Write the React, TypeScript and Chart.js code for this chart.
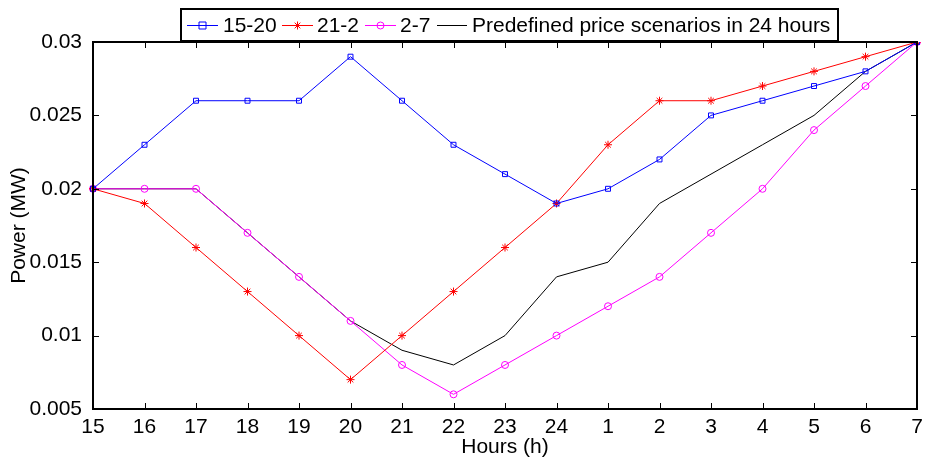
import React, { useEffect, useRef } from "react";
import { Chart, registerables } from "chart.js";

Chart.register(...registerables);

const hours = ["15", "16", "17", "18", "19", "20", "21", "22", "23", "24", "1", "2", "3", "4", "5", "6", "7"];
const s1520 = [0.02, 0.023, 0.026, 0.026, 0.026, 0.029, 0.026, 0.023, 0.021, 0.019, 0.02, 0.022, 0.025, 0.026, 0.027, 0.028, 0.03];
const s212 = [0.02, 0.019, 0.016, 0.013, 0.01, 0.007, 0.01, 0.013, 0.016, 0.019, 0.023, 0.026, 0.026, 0.027, 0.028, 0.029, 0.03];
const s27 = [0.02, 0.02, 0.02, 0.017, 0.014, 0.011, 0.008, 0.006, 0.008, 0.01, 0.012, 0.014, 0.017, 0.02, 0.024, 0.027, 0.03];
const predefined = [0.02, 0.02, 0.02, 0.017, 0.014, 0.011, 0.009, 0.008, 0.01, 0.014, 0.015, 0.019, 0.021, 0.023, 0.025, 0.028, 0.03];
const yTicks = [0.005, 0.01, 0.015, 0.02, 0.025, 0.03];
const yTickLabels = ["0.005", "0.01", "0.015", "0.02", "0.025", "0.03"];
const legendLabels = ["15-20", "21-2", "2-7", "Predefined price scenarios in 24 hours"];

const FONT = "'Liberation Sans', Arial, sans-serif";
const FS = 21;

function drawMarker(ctx: CanvasRenderingContext2D, style: string, x: number, y: number, r: number, color: string) {
  ctx.save();
  ctx.strokeStyle = color;
  ctx.lineWidth = 1;
  ctx.beginPath();
  if (style === "rect") {
    ctx.rect(x - r, y - r, 2 * r, 2 * r);
  } else if (style === "circle") {
    ctx.arc(x, y, r, 0, Math.PI * 2);
  } else if (style === "star") {
    for (let i = 0; i < 4; i++) {
      const a = (i * Math.PI) / 4;
      ctx.moveTo(x - Math.cos(a) * r, y - Math.sin(a) * r);
      ctx.lineTo(x + Math.cos(a) * r, y + Math.sin(a) * r);
    }
  }
  ctx.stroke();
  ctx.restore();
}

const framePlugin = {
  id: "frame",
  afterDraw(chart: any) {
    const { ctx, chartArea } = chart;
    const { left, right, top, bottom } = chartArea;
    const xs = chart.scales.x;
    const ys = chart.scales.y;
    ctx.save();
    ctx.strokeStyle = "#000";
    ctx.lineWidth = 1;
    const tl = 6;
    ctx.beginPath();
    hours.forEach((_, i) => {
      const px = Math.round(xs.getPixelForValue(i)) + 0.5;
      ctx.moveTo(px, bottom);
      ctx.lineTo(px, bottom - tl);
      ctx.moveTo(px, top);
      ctx.lineTo(px, top + tl);
    });
    yTicks.forEach((v) => {
      const py = Math.round(ys.getPixelForValue(v)) + 0.5;
      ctx.moveTo(left, py);
      ctx.lineTo(left + tl, py);
      ctx.moveTo(right, py);
      ctx.lineTo(right - tl, py);
    });
    ctx.stroke();
    ctx.lineWidth = 2;
    ctx.strokeRect(left, top, right - left, bottom - top);

    // legend
    const lx = 181, ly = 9, lw = 657, lh = 32;
    ctx.fillStyle = "#fff";
    ctx.fillRect(lx, ly, lw, lh);
    ctx.lineWidth = 2;
    ctx.strokeRect(lx, ly, lw, lh);
    const cy = ly + lh / 2;
    const items = [
      { x0: 187, x1: 218, tx: 223, color: "#0000ff", marker: "rect", r: 3.5 },
      { x0: 282, x1: 313, tx: 317, color: "#ff0000", marker: "star", r: 4 },
      { x0: 365, x1: 396, tx: 400, color: "#ff00ff", marker: "circle", r: 3.5 },
      { x0: 437, x1: 467, tx: 472, color: "#000000", marker: "", r: 0 },
    ];
    ctx.font = `${FS}px ${FONT}`;
    ctx.textBaseline = "middle";
    ctx.textAlign = "left";
    items.forEach((it, i) => {
      ctx.strokeStyle = it.color;
      ctx.lineWidth = 1;
      ctx.beginPath();
      ctx.moveTo(it.x0, cy + 0.5);
      ctx.lineTo(it.x1, cy + 0.5);
      ctx.stroke();
      if (it.marker) drawMarker(ctx, it.marker, (it.x0 + it.x1) / 2, cy + 0.5, it.r, it.color);
      ctx.fillStyle = "#000";
      ctx.fillText(legendLabels[i], it.tx, cy + 1);
    });
    ctx.restore();
  },
};

export default function App() {
  const ref = useRef<HTMLCanvasElement | null>(null);
  useEffect(() => {
    document.body.style.margin = "0";
    const canvas = ref.current;
    if (!canvas) return;
    const mk = (label: string, data: number[], color: string, pointStyle: any, r: number) => ({
      label,
      data,
      borderColor: color,
      backgroundColor: "rgba(0,0,0,0)",
      borderWidth: 1,
      pointStyle,
      pointRadius: r,
      pointBorderColor: color,
      pointBackgroundColor: "rgba(0,0,0,0)",
      pointBorderWidth: 1,
      tension: 0,
    });
    const chart = new Chart(canvas, {
      type: "line",
      data: {
        labels: hours,
        datasets: [
          mk(legendLabels[0], s1520, "#0000ff", "rect", 3.5),
          mk(legendLabels[1], s212, "#ff0000", "star", 4),
          mk(legendLabels[2], s27, "#ff00ff", "circle", 3.5),
          mk(legendLabels[3], predefined, "#000000", false, 0),
        ],
      },
      options: {
        animation: false,
        responsive: false,
        maintainAspectRatio: false,
        layout: { padding: { left: 0, top: 42, right: 8, bottom: 0 } },
        plugins: {
          legend: { display: false },
          tooltip: { enabled: false },
        },
        scales: {
          x: {
            type: "category",
            offset: false,
            grid: { display: false },
            border: { display: false },
            ticks: { color: "#000", font: { family: FONT, size: FS }, padding: -2, maxRotation: 0, autoSkip: false },
            title: { display: true, text: "Hours (h)", color: "#000", font: { family: FONT, size: FS }, padding: { top: -2, bottom: -2 } },
            afterFit: (s: any) => { s.height = 49; },
          },
          y: {
            type: "linear",
            min: 0.005,
            max: 0.03,
            grid: { display: false },
            border: { display: false },
            afterBuildTicks: (s: any) => { s.ticks = yTicks.map((v) => ({ value: v })); },
            ticks: {
              color: "#000",
              font: { family: FONT, size: FS },
              padding: 3,
              callback: (v: any) => {
                const i = yTicks.findIndex((t) => Math.abs(t - Number(v)) < 1e-9);
                return i >= 0 ? yTickLabels[i] : "";
              },
            },
            title: { display: true, text: "Power (MW)", color: "#000", font: { family: FONT, size: FS }, padding: { top: 7, bottom: 0 } },
            afterFit: (s: any) => { s.width = 93; },
          },
        },
      },
      plugins: [framePlugin],
    });
    return () => chart.destroy();
  }, []);
  return (
    <div style={{ width: 925, height: 458 }}>
      <canvas ref={ref} width={925} height={458} style={{ display: "block", width: 925, height: 458 }} />
    </div>
  );
}
